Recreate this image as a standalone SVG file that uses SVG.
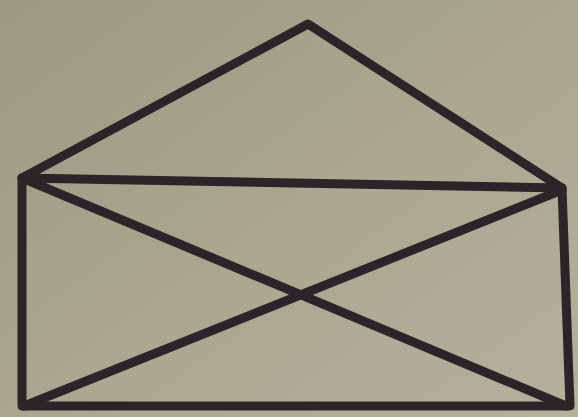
<svg xmlns="http://www.w3.org/2000/svg" width="578" height="417" viewBox="0 0 578 417">
<defs>
<linearGradient id="bg" x1="0" y1="0" x2="1" y2="1">
<stop offset="0" stop-color="#9c9a82"/>
<stop offset="0.5" stop-color="#aaa690"/>
<stop offset="1" stop-color="#b4b09c"/>
</linearGradient>
<style>
.ln{fill:none;stroke:#2a2528;stroke-width:9;stroke-linecap:round;stroke-linejoin:round}
</style>
</defs>
<rect width="578" height="417" fill="url(#bg)"/>
<g id="connectors">
<path class="ln" d="M22,178 L308,24 L562,188"/>
<path class="ln" d="M22,178 L562,188 L570,406 L22,406 Z"/>
<path class="ln" d="M22,178 L566,406"/>
<path class="ln" d="M24,406 L562,190"/>
</g>
</svg>
